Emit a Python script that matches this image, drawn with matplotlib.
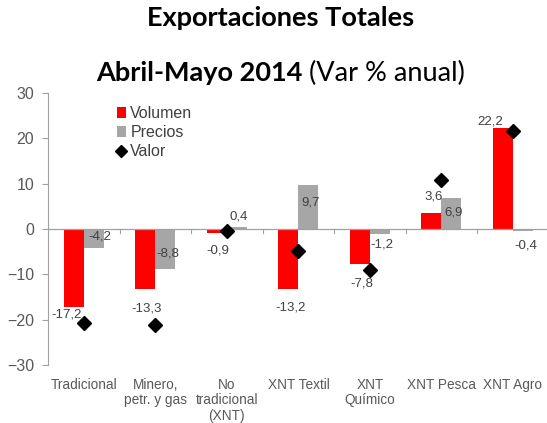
import numpy as np
import matplotlib.pyplot as plt

# Datos
categorias = ["Tradicional", "Minero,\npetr. y gas", "No\ntradicional\n(XNT)",
              "XNT Textil", "XNT\nQuímico", "XNT Pesca", "XNT Agro"]
volumen = [-17.2, -13.3, -0.9, -13.2, -7.8, 3.6, 22.2]
precios = [-4.2, -8.8, 0.4, 9.7, -1.2, 6.9, -0.4]
valor = [-20.8, -21.1, -0.5, -4.9, -9.0, 10.8, 21.7]

# desplazamiento de etiquetas (px: dx, dy hacia abajo)
off_vol = [(-7, 7), (1, 19), (1, 17), (2, 19), (2, 19), (2, -16), (-13, -7)]
off_pre = [(6, -12), (2, -15), (2, -11), (2, 17), (2, 10), (2, 15), (3, 15)]

rojo = "#FF0000"
gris = "#A6A6A6"
txt = "#404040"

fig = plt.figure(figsize=(5.47, 4.23), dpi=100)
ax = fig.add_axes([0.088, 0.137, 0.915, 0.643])

x = np.arange(len(categorias))
w = 0.28
b1 = ax.bar(x - w / 2, volumen, w, color=rojo, label="Volumen", zorder=2)
b2 = ax.bar(x + w / 2, precios, w, color=gris, label="Precios", zorder=2)
l1, = ax.plot(x, valor, "D", color="black", ms=7, ls="none", label="Valor", zorder=4)

fmt = lambda v: f"{v:.1f}".replace(".", ",")
pt = 0.72
for i in range(len(x)):
    dx, dy = off_vol[i]
    ax.annotate(fmt(volumen[i]), (x[i] - w / 2, volumen[i]), xytext=(dx * pt, -dy * pt),
                textcoords="offset points", ha="center", va="center",
                fontsize=9.5, color=txt, family="Liberation Sans", zorder=5)
    dx, dy = off_pre[i]
    ax.annotate(fmt(precios[i]), (x[i] + w / 2, precios[i]), xytext=(dx * pt, -dy * pt),
                textcoords="offset points", ha="center", va="center",
                fontsize=9.5, color=txt, family="Liberation Sans", zorder=5)

ax.set_ylim(-30, 30)
ax.set_xlim(-0.5, len(x) - 0.5)
ax.set_yticks([-30, -20, -10, 0, 10, 20, 30])
ax.tick_params(axis="y", labelsize=11.5, labelcolor="#595959", color="#A0A0A0",
               length=4, width=0.8, pad=6)
for lab in ax.get_yticklabels():
    lab.set_family("Liberation Sans")

# eje cero con marcas entre categorías
ax.axhline(0, color="#A0A0A0", lw=0.9, zorder=3)
for b in np.arange(0.5, len(x) - 0.5, 1):
    ax.plot([b, b], [0, -0.9], color="#A0A0A0", lw=0.8, zorder=3)
ax.set_xticks(x)
ax.set_xticklabels([])
ax.tick_params(axis="x", length=0)
for i, c in enumerate(categorias):
    ax.text(x[i], -32.8, c, ha="center", va="top", fontsize=9.8,
            color="#595959", family="Liberation Sans", linespacing=1.15)

for s in ["top", "right", "bottom"]:
    ax.spines[s].set_visible(False)
ax.spines["left"].set_color("#A0A0A0")
ax.spines["left"].set_linewidth(0.8)

leg = ax.legend([b1, b2, l1], ["Volumen", "Precios", "Valor"],
                loc="upper left", bbox_to_anchor=(0.137, 0.952), frameon=False,
                prop={"family": "Liberation Sans", "size": 11.5},
                handlelength=0.6, handleheight=0.6, handletextpad=0.25,
                labelspacing=0.25, borderaxespad=0.0, borderpad=0.0, markerscale=0.85)
for t in leg.get_texts():
    t.set_color(txt)

fig.text(0.512, 0.938, "Exportaciones Totales", ha="center", va="baseline",
         fontsize=19.5, fontweight="bold", family="Lato")
t1 = fig.text(0.1755, 0.809, "Abril-Mayo 2014", ha="left", va="baseline",
              fontsize=19.5, fontweight="bold", family="Lato")
fig.canvas.draw()
bb = t1.get_window_extent()
inv = fig.transFigure.inverted()
x_end = inv.transform((bb.x1, bb.y0))[0]
fig.text(x_end, 0.809, " (Var % anual)", ha="left", va="baseline",
         fontsize=19.5, family="Lato")

fig.savefig("out.png", dpi=100)
